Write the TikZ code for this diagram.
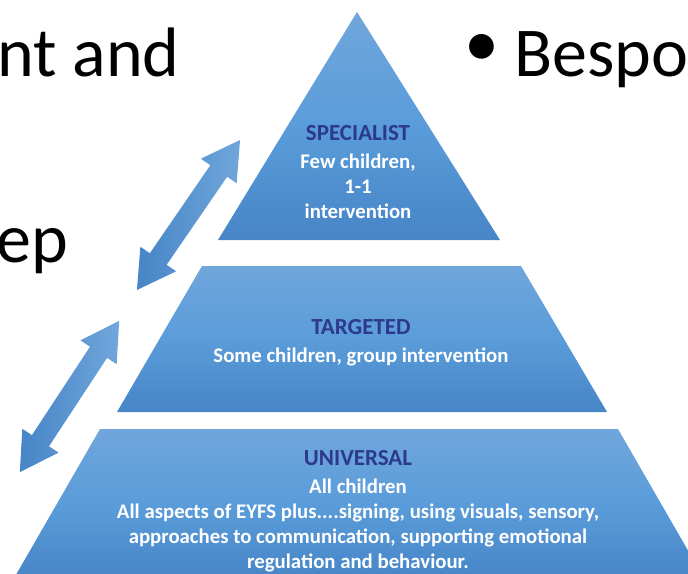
\documentclass[tikz,border=0pt]{standalone}
\usepackage{fontspec}
\setmainfont{Carlito}
\usetikzlibrary{shapes.arrows}
\definecolor{tierTop}{HTML}{70A6DB}
\definecolor{tierMid}{HTML}{5A9CDA}
\definecolor{tierBot}{HTML}{4785C6}
\definecolor{tierName}{HTML}{2C398C}
\newcommand{\tiername}[1]{{\fontsize{23}{25}\selectfont\color{tierName}#1}}

\begin{document}
\begin{tikzpicture}
[x=1pt, y=-1pt,
tier/.style={top color=tierTop, bottom color=tierBot, middle color=tierMid},
tiertext/.style={align=center, text=white, inner sep=0pt, anchor=north, font=\fontsize{20.8}{25}\selectfont\bfseries},
slide/.style={inner sep=0pt, font=\fontsize{70}{84}\selectfont},
link/.style={double arrow, draw=none, left color=tierBot, right color=tierTop, inner xsep=0pt, inner ysep=10pt,
  minimum width=43pt, double arrow head extend=11.5pt, double arrow tip angle=60}]

\clip (0,0) rectangle (688,573);

% pyramid
\shade[tier] (357,12) -- (500,240) -- (218,240) -- cycle;
\shade[tier] (202,266) -- (521,266) -- (607,412) -- (117,412) -- cycle;
\shade[tier] (100,429) -- (618,429) -- (705,580) -- (13,580) -- cycle;

\node[tiertext] (specialist) at (358,125) {\tiername{SPECIALIST}\\[3pt]Few children,\\1-1\\intervention};
\node[tiertext] (targeted) at (361,319) {\tiername{TARGETED}\\[3pt]Some children, group intervention};
\node[tiertext] (universal) at (358,450) {\tiername{UNIVERSAL}\\[3pt]All children\\All aspects of EYFS plus....signing, using visuals, sensory,\\approaches to communication, supporting emotional\\regulation and behaviour.};

% arrows between the tiers
\node[link, rotate=55.5, minimum height=182pt] (linkUpper) at (188.5,215) {};
\node[link, rotate=56.7, minimum height=181pt] (linkLower) at (69.5,396.5) {};

% slide text round the picture
\node[slide, anchor=base west] (textAnd) at (-3,76) {nt and};
\node[slide, anchor=base west] (textStep) at (-4,262) {ep};
\node[slide] (bullet) at (482,50) {•};
\node[slide, anchor=base west] (textBespoke) at (514,76) {Bespoke};

\end{tikzpicture}
\end{document}
